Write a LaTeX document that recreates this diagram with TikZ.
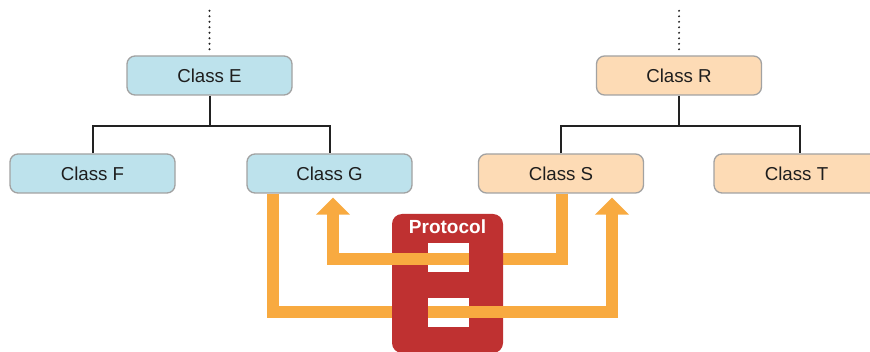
\documentclass[tikz,border=0pt]{standalone}
\usepackage{fontspec}
\setmainfont{Liberation Sans}
\usetikzlibrary{arrows.meta,calc}
\definecolor{cblue}{HTML}{BDE2EC}
\definecolor{cpeach}{HTML}{FDDBB5}
\definecolor{cborder}{HTML}{A2A2A2}
\definecolor{ctext}{HTML}{1E1E1E}
\definecolor{ctree}{HTML}{222222}
\definecolor{corange}{HTML}{F8AA40}
\definecolor{cred}{HTML}{BF3131}
\begin{document}
\begin{tikzpicture}[x=1pt,y=-1pt,
  cls/.style={draw=cborder, line width=1.3pt, rounded corners=8pt, minimum width=165pt, minimum height=39pt, inner sep=0pt, font=\fontsize{18.7}{20}\selectfont, text=ctext},
  bluecls/.style={cls, fill=cblue},
  peachcls/.style={cls, fill=cpeach},
  tree/.style={line width=2pt, draw=ctree},
  dotline/.style={line width=2.2pt, draw=ctree, line cap=round, dash pattern=on 0pt off 5.5pt},
  flow/.style={line width=12pt, draw=corange, line join=miter},
  flowtip/.style={-{Triangle[length=17pt,width=33pt]}},
  protobox/.style={fill=cred, rounded corners=10pt, minimum width=111pt, minimum height=139pt, inner sep=0pt},
  protolabel/.style={text=white, font=\bfseries\fontsize{19}{21}\selectfont, inner sep=0pt},
  slot/.style={fill=white, minimum width=41pt, minimum height=29pt, inner sep=0pt}
]
\useasboundingbox (0,0) rectangle (870,352);
\clip (0,0) rectangle (870,352);

% classes
\node[bluecls] (E) at (209.5,75.5) {Class E};
\node[bluecls] (F) at (92.5,173.5) {Class F};
\node[bluecls] (G) at (329.5,173.5) {Class G};
\node[peachcls] (R) at (679,75.5) {Class R};
\node[peachcls] (S) at (561,173.5) {Class S};
\node[peachcls, minimum width=172pt] (T) at (800,173.5) {\hspace*{-7pt}Class T};

% hierarchy lines
\draw[dotline] ($(E.north)+(0,-6)$) -- ($(E.north)+(0,-45)$);
\draw[dotline] ($(R.north)+(0,-6)$) -- ($(R.north)+(0,-45)$);
\coordinate (Ebar) at ($(E.south)+(0,30)$);
\coordinate (Rbar) at ($(R.south)+(0,30)$);
\draw[tree] (E.south) -- (Ebar);
\draw[tree] (F.north) -- (F.north |- Ebar) -- (G.north |- Ebar) -- (G.north);
\draw[tree] (R.south) -- (Rbar);
\draw[tree] (S.north) -- (S.north |- Rbar) -- (T.north |- Rbar) -- (T.north);

% orange connectors
\coordinate (Gout) at ($(G.south)+(-56.5,0)$);
\coordinate (Gin) at ($(G.south)+(3.5,4)$);
\coordinate (Sout) at ($(S.south)+(1,0)$);
\coordinate (Sin) at ($(S.south)+(51,4)$);
\coordinate (Uy) at ($(Gin)+(0,61.5)$);
\coordinate (Ly) at ($(Sin)+(0,114.5)$);
\draw[flow,flowtip] (Gout) -- (Gout |- Ly) -- (Ly) -- (Sin);
\draw[flow,flowtip] (Sout) -- (Sout |- Uy) -- (Gin |- Uy) -- (Gin);

% protocol
\node[protobox] (P) at (447.5,283.5) {};
\node[protolabel] (PL) at (447.5,227) {Protocol};
\node[slot] (s1) at (448.5,257.5) {};
\node[slot] (s2) at (448.5,312.5) {};

% threads over the protocol box
\draw[flow] (s1.east |- Uy) -- ($(P.west |- Uy)+(-5,0)$);
\draw[flow] (s2.west |- Ly) -- ($(P.east |- Ly)+(5,0)$);
\end{tikzpicture}
\end{document}
